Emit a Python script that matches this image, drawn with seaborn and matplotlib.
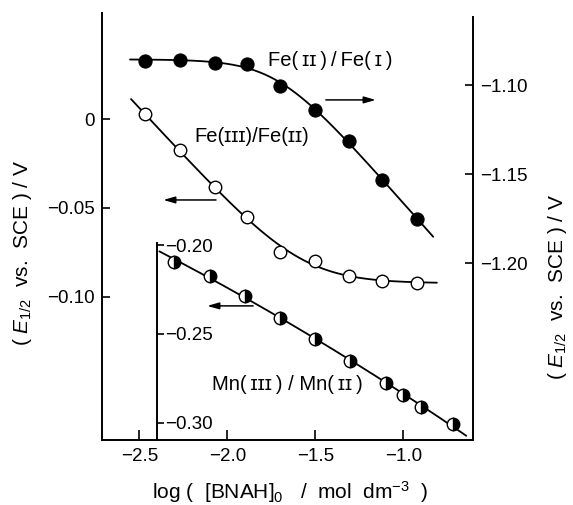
import numpy as np
import matplotlib
matplotlib.use("Agg")
import matplotlib.pyplot as plt
import seaborn as sns

# ---- data ----
fe21_x = [-2.47, -2.27, -2.07, -1.89, -1.70, -1.50, -1.31, -1.12, -0.92]
fe21_y = [-1.0864, -1.0860, -1.0875, -1.0882, -1.1004, -1.1140, -1.1314, -1.1533, -1.1752]

fe32_x = [-2.47, -2.27, -2.07, -1.89, -1.70, -1.50, -1.31, -1.12, -0.92]
fe32_y = [0.0027, -0.0176, -0.0380, -0.0549, -0.0746, -0.0799, -0.0883, -0.0910, -0.0924]

mn_x = [-2.30, -2.10, -1.90, -1.70, -1.50, -1.30, -1.10, -1.00, -0.90, -0.72]
mn_y = [-0.2093, -0.2173, -0.2286, -0.2408, -0.2530, -0.2651, -0.2775, -0.2844, -0.2910, -0.3009]

x_ticks = [-2.5, -2.0, -1.5, -1.0]
left_ticks = [0.0, -0.05, -0.10]
right_ticks = [-1.10, -1.15, -1.20]
inner_ticks = [-0.20, -0.25, -0.30]

sns.set_style("ticks")
plt.rcParams["font.family"] = ["Liberation Sans", "DejaVu Sans"]
plt.rcParams["mathtext.fontset"] = "custom"
plt.rcParams["mathtext.rm"] = "Liberation Sans"
plt.rcParams["mathtext.it"] = "Liberation Sans:italic"
plt.rcParams["axes.unicode_minus"] = True
for k in ("text.color", "axes.labelcolor", "xtick.color", "ytick.color", "axes.edgecolor"):
    plt.rcParams[k] = "black"

FS = 13.5
fig = plt.figure(figsize=(5.73, 5.05), dpi=100)
ax = fig.add_axes([0.1775, 0.1287, 0.826 - 0.1775, 0.9743 - 0.1287])
ax_r = ax.twinx()
ax_in = ax.twinx()

ax.set_xlim(-2.7136, -0.602)
ax.set_ylim(-0.1808, 0.0599)
ax_r.set_ylim(-1.2991, -1.0596)
off = -0.129
ax_in.set_ylim(-0.1808 + off, 0.0599 + off)


# smooth fitted curves: E = A + B*log10(1 + 10^(s*(x - x0)/w)), least squares
def fit_sigmoid(xs, ys, s, x1, x2):
    xs = np.asarray(xs)
    ys = np.asarray(ys)
    best = None
    for w in np.linspace(0.15, 1.2, 43):
        for x0 in np.linspace(-2.8, -0.4, 241):
            f = np.log10(1 + 10 ** (s * (xs - x0) / w))
            M = np.column_stack([np.ones_like(xs), f])
            coef, *_ = np.linalg.lstsq(M, ys, rcond=None)
            r = np.sum((M @ coef - ys) ** 2)
            if best is None or r < best[0]:
                best = (r, x0, w, coef)
    _, x0, w, (A, B) = best
    xx = np.linspace(x1, x2, 300)
    return xx, A + B * np.log10(1 + 10 ** (s * (xx - x0) / w))


def fit_poly(xs, ys, deg, x1, x2):
    c = np.polyfit(xs, ys, deg)
    xx = np.linspace(x1, x2, 200)
    return xx, np.polyval(c, xx)


lw = 1.3
xx, yy = fit_sigmoid(fe21_x, fe21_y, 1, -2.553, -0.83)
sns.lineplot(x=xx, y=yy, ax=ax_r, color="black", lw=lw, sort=False)
sns.lineplot(x=fe21_x, y=fe21_y, ax=ax_r, marker="o", linestyle="", color="black",
             markerfacecolor="black", markeredgecolor="black", ms=9.5)

xx, yy = fit_sigmoid(fe32_x, fe32_y, -1, -2.547, -0.809)
sns.lineplot(x=xx, y=yy, ax=ax, color="black", lw=lw, sort=False)
sns.lineplot(x=fe32_x, y=fe32_y, ax=ax, marker="o", linestyle="", color="black",
             markerfacecolor="white", markeredgecolor="black", markeredgewidth=1.0, ms=9)

xx, yy = fit_poly(mn_x, mn_y, 2, -2.386, -0.642)
sns.lineplot(x=xx, y=yy, ax=ax_in, color="black", lw=lw, sort=False)
sns.lineplot(x=mn_x, y=mn_y, ax=ax_in, marker="o", linestyle="", color="black",
             fillstyle="right", markerfacecolor="black", markerfacecoloralt="white",
             markeredgecolor="black", markeredgewidth=1.0, ms=9)

# spines
for a in (ax, ax_r, ax_in):
    a.spines["top"].set_visible(False)
ax.spines["right"].set_visible(False)
for a in (ax_r, ax_in):
    a.spines["left"].set_visible(False)
    a.spines["bottom"].set_visible(False)
for s in ("left", "bottom"):
    ax.spines[s].set_linewidth(1.4)
ax_r.spines["right"].set_linewidth(1.4)
ax_r.spines["right"].set_bounds(-1.2991, -1.0618)
ax_in.spines["right"].set_position(("data", -2.4))
ax_in.spines["right"].set_linewidth(1.4)
ax_in.spines["right"].set_bounds(-0.1808 + off, -0.1985)

# ticks
ax.set_xticks(x_ticks)
ax.set_xticklabels(["\u22122.5", "\u22122.0", "\u22121.5", "\u22121.0"])
ax.set_yticks(left_ticks)
ax.set_yticklabels(["0", "\u22120.05", "\u22120.10"])
ax_r.set_yticks(right_ticks)
ax_r.set_yticklabels(["\u22121.10", "\u22121.15", "\u22121.20"])
ax_in.set_yticks(inner_ticks)
ax_in.set_yticklabels(["\u22120.20", "\u22120.25", "\u22120.30"])

ax.tick_params(axis="x", direction="in", length=7, width=1.2, pad=6, labelsize=FS)
ax.tick_params(axis="y", direction="in", length=6, width=1.2, pad=5, labelsize=FS)
ax_r.tick_params(axis="y", direction="in", length=6, width=1.2, pad=5, labelsize=FS)
ax_in.tick_params(axis="y", direction="out", length=5, width=1.2, pad=1, labelsize=FS)

# labels
LFS = 15
ax.set_xlabel(r"log (  [BNAH]$_0$   /  mol  dm$^{-3}$  )", fontsize=LFS)
ax.xaxis.set_label_coords(0.5067, -0.122)
ax.xaxis.label.set_va("center")
ylab = r"( $E_{1/2}$  vs.  SCE ) / V"
ax.set_ylabel(ylab, fontsize=LFS)
ax.yaxis.set_label_coords(-0.2145, 0.438)
ax.yaxis.label.set_va("center")
ax_r.set_ylabel(ylab, fontsize=LFS, rotation=90)
ax_r.yaxis.set_label_coords(1.2253, 0.358)
ax_r.yaxis.label.set_va("center")
ax_in.set_ylabel("")

# annotations (left-axis data coords)
tfs = 14.5
sp = "\u2009"
ax.text(-1.768, 0.0329, f"Fe({sp}\u026a\u026a{sp}){sp}/{sp}Fe({sp}\u026a{sp})",
        fontsize=tfs, ha="left", va="center")
ax.text(-2.188, -0.0100, "Fe(\u026a\u026a\u026a)/Fe(\u026a\u026a)",
        fontsize=tfs, ha="left", va="center")
ax.text(-2.086, -0.1497, f"Mn({sp}\u026a\u026a\u026a{sp}) / Mn({sp}\u026a\u026a{sp})",
        fontsize=tfs, ha="left", va="center")
ap = dict(arrowstyle="-|>,head_length=0.7,head_width=0.2", lw=1.1, color="black",
          shrinkA=0, shrinkB=0)
ax.annotate("", xy=(-1.156, 0.0109), xytext=(-1.440, 0.0109), arrowprops=ap)
ax.annotate("", xy=(-2.364, -0.0455), xytext=(-2.064, -0.0455), arrowprops=ap)
ax.annotate("", xy=(-2.114, -0.1052), xytext=(-1.853, -0.1052), arrowprops=ap)

fig.savefig("out.png", dpi=100)
